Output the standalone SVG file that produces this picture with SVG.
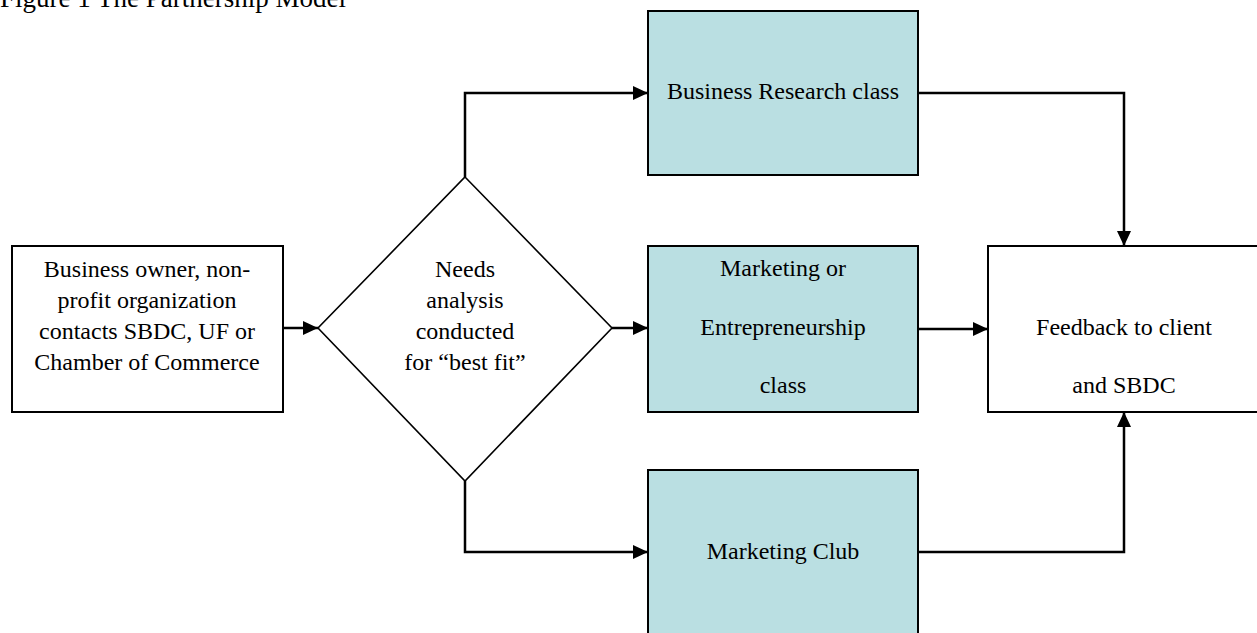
<svg xmlns="http://www.w3.org/2000/svg" width="1257" height="633" viewBox="0 0 1257 633">
  <style>
    .box { fill: #ffffff; stroke: #000000; stroke-width: 2; }
    .cls { fill: #badfe2; stroke: #000000; stroke-width: 2; }
    .dec { fill: #ffffff; stroke: #000000; stroke-width: 1.6; }
    .lbl { font-family: "Liberation Serif", "Times New Roman", serif; font-size: 24px; fill: #000000; text-anchor: middle; }
    .title { font-family: "Liberation Serif", "Times New Roman", serif; font-size: 27px; fill: #000000; }
    .edge { fill: none; stroke: #000000; stroke-width: 2.5; marker-end: url(#arrow); }
  </style>
  <defs>
    <marker id="arrow" markerUnits="userSpaceOnUse" markerWidth="16" markerHeight="16" viewBox="0 0 16 16" refX="15" refY="8" orient="auto">
      <path d="M0,1 L15,8 L0,15 Z" fill="#000000"/>
    </marker>
  </defs>

  <rect width="1257" height="633" fill="#ffffff"/>

  <!-- caption, partly above the top edge -->
  <text class="title" x="0" y="7">Figure 1 The Partnership Model</text>

  <!-- connectors -->
  <g id="connectors">
    <path class="edge" d="M283,328 H318"/>
    <path class="edge" d="M465,177 V93 H648"/>
    <path class="edge" d="M612,328 H648"/>
    <path class="edge" d="M465,481 V552 H648"/>
    <path class="edge" d="M918,93 H1124 V246"/>
    <path class="edge" d="M918,329 H988"/>
    <path class="edge" d="M918,552 H1124 V412"/>
  </g>

  <!-- entry point -->
  <g id="client">
    <rect class="box" x="12" y="246" width="271" height="166"/>
    <text class="lbl" x="147" y="277">Business owner, non-</text>
    <text class="lbl" x="147" y="308">profit organization</text>
    <text class="lbl" x="147" y="339">contacts SBDC, UF or</text>
    <text class="lbl" x="147" y="370">Chamber of Commerce</text>
  </g>

  <!-- decision -->
  <g id="needs-analysis">
    <polygon class="dec" points="465,177 612,328 465,481 318,328"/>
    <text class="lbl" x="465" y="277">Needs</text>
    <text class="lbl" x="465" y="308">analysis</text>
    <text class="lbl" x="465" y="339">conducted</text>
    <text class="lbl" x="465" y="370">for “best fit”</text>
  </g>

  <!-- options -->
  <g id="business-research">
    <rect class="cls" x="648" y="11" width="270" height="164"/>
    <text class="lbl" x="783" y="99">Business Research class</text>
  </g>

  <g id="marketing-class">
    <rect class="cls" x="648" y="246" width="270" height="166"/>
    <text class="lbl" x="783" y="276">Marketing or</text>
    <text class="lbl" x="783" y="335">Entrepreneurship</text>
    <text class="lbl" x="783" y="393">class</text>
  </g>

  <g id="marketing-club">
    <rect class="cls" x="648" y="470" width="270" height="180"/>
    <text class="lbl" x="783" y="559">Marketing Club</text>
  </g>

  <!-- outcome -->
  <g id="feedback">
    <rect class="box" x="988" y="246" width="290" height="166"/>
    <text class="lbl" x="1124" y="335">Feedback to client</text>
    <text class="lbl" x="1124" y="393">and SBDC</text>
  </g>
</svg>
